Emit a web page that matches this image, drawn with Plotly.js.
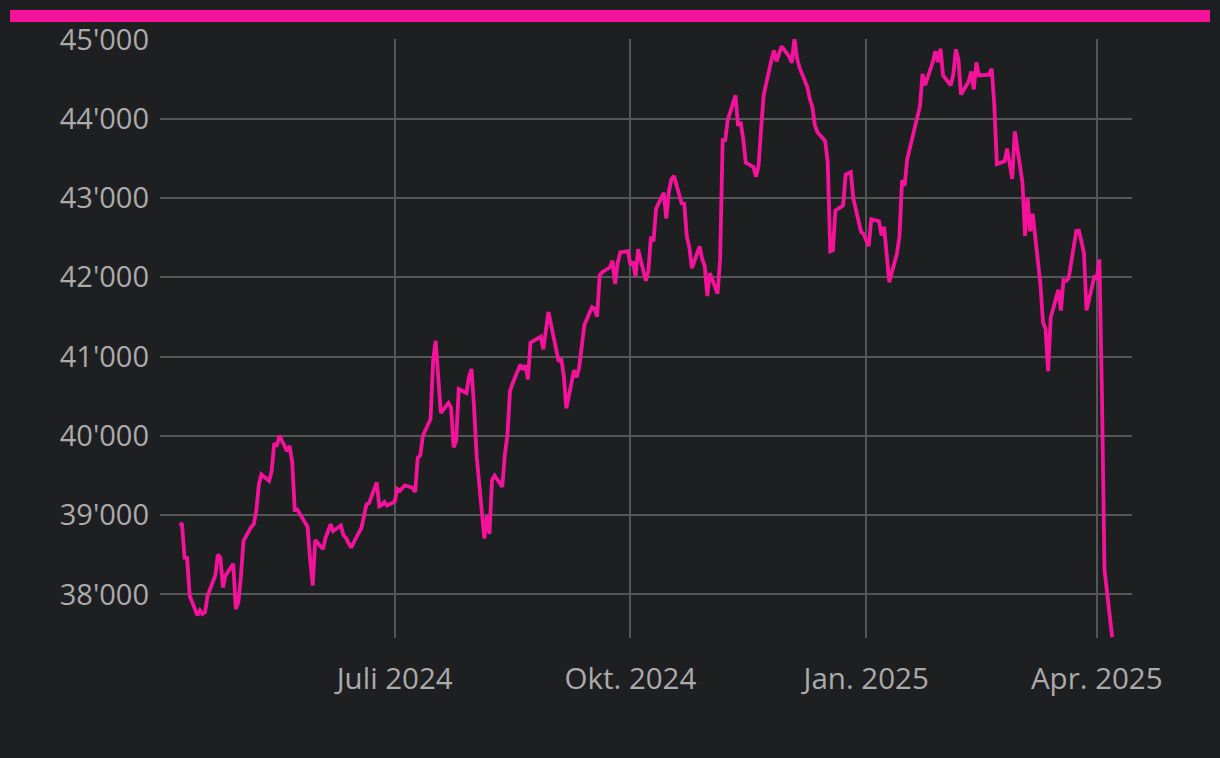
<!DOCTYPE html>
<html>
<head>
<meta charset="utf-8">
<script src="https://cdn.plot.ly/plotly-3.0.1.min.js"></script>
<style>
  html, body { margin: 0; padding: 0; background: #1e1f21; }
  #wrap { position: relative; width: 1220px; height: 758px; }
  #bar { position: absolute; left: 10px; top: 10px; width: 1200px; height: 12px; background: #f5129a; z-index: 5; }
  #chart { position: absolute; left: 0; top: 0; width: 1220px; height: 758px; }
</style>
</head>
<body>
<div id="wrap">
  <div id="chart"></div>
  <div id="bar"></div>
</div>
<script>
// Index level (daily closes)
const dates = [
 "2024-04-08","2024-04-09","2024-04-10","2024-04-11","2024-04-12","2024-04-15","2024-04-16","2024-04-17","2024-04-18","2024-04-19",
 "2024-04-22","2024-04-23","2024-04-24","2024-04-25","2024-04-26","2024-04-29","2024-04-30",
 "2024-05-01","2024-05-02","2024-05-03","2024-05-06","2024-05-07","2024-05-08","2024-05-09","2024-05-10","2024-05-13","2024-05-14",
 "2024-05-15","2024-05-16","2024-05-17","2024-05-20","2024-05-21","2024-05-22","2024-05-23","2024-05-24","2024-05-28","2024-05-29",
 "2024-05-30","2024-05-31",
 "2024-06-03","2024-06-04","2024-06-05","2024-06-06","2024-06-07","2024-06-10","2024-06-11","2024-06-12","2024-06-13","2024-06-14",
 "2024-06-17","2024-06-18","2024-06-20","2024-06-21","2024-06-24","2024-06-25","2024-06-26","2024-06-27","2024-06-28",
 "2024-07-01","2024-07-02","2024-07-03","2024-07-05","2024-07-08","2024-07-09","2024-07-10","2024-07-11","2024-07-12","2024-07-15",
 "2024-07-16","2024-07-17","2024-07-18","2024-07-19","2024-07-22","2024-07-23","2024-07-24","2024-07-25","2024-07-26","2024-07-29",
 "2024-07-30","2024-07-31",
 "2024-08-01","2024-08-02","2024-08-05","2024-08-06","2024-08-07","2024-08-08","2024-08-09","2024-08-12","2024-08-13","2024-08-14",
 "2024-08-15","2024-08-16","2024-08-19","2024-08-20","2024-08-21","2024-08-22","2024-08-23","2024-08-26","2024-08-27","2024-08-28",
 "2024-08-29","2024-08-30",
 "2024-09-03","2024-09-04","2024-09-05","2024-09-06","2024-09-09","2024-09-10","2024-09-11","2024-09-12","2024-09-13","2024-09-16",
 "2024-09-17","2024-09-18","2024-09-19","2024-09-20","2024-09-23","2024-09-24","2024-09-25","2024-09-26","2024-09-27","2024-09-30",
 "2024-10-01","2024-10-02","2024-10-03","2024-10-04","2024-10-07","2024-10-08","2024-10-09","2024-10-10","2024-10-11","2024-10-14",
 "2024-10-15","2024-10-16","2024-10-17","2024-10-18","2024-10-21","2024-10-22","2024-10-23","2024-10-24","2024-10-25","2024-10-28",
 "2024-10-29","2024-10-30","2024-10-31",
 "2024-11-01","2024-11-04","2024-11-05","2024-11-06","2024-11-07","2024-11-08","2024-11-11","2024-11-12","2024-11-13","2024-11-14",
 "2024-11-15","2024-11-18","2024-11-19","2024-11-20","2024-11-21","2024-11-22","2024-11-25","2024-11-26","2024-11-27","2024-11-29",
 "2024-12-02","2024-12-03","2024-12-04","2024-12-05","2024-12-06","2024-12-09","2024-12-10","2024-12-11","2024-12-12","2024-12-13",
 "2024-12-16","2024-12-17","2024-12-18","2024-12-19","2024-12-20","2024-12-23","2024-12-24","2024-12-26","2024-12-27","2024-12-30",
 "2024-12-31",
 "2025-01-02","2025-01-03","2025-01-06","2025-01-07","2025-01-08","2025-01-10","2025-01-13","2025-01-14","2025-01-15","2025-01-16",
 "2025-01-17","2025-01-21","2025-01-22","2025-01-23","2025-01-24","2025-01-27","2025-01-28","2025-01-29","2025-01-30","2025-01-31",
 "2025-02-03","2025-02-04","2025-02-05","2025-02-06","2025-02-07","2025-02-10","2025-02-11","2025-02-12","2025-02-13","2025-02-14",
 "2025-02-18","2025-02-19","2025-02-20","2025-02-21","2025-02-24","2025-02-25","2025-02-26","2025-02-27","2025-02-28",
 "2025-03-03","2025-03-04","2025-03-05","2025-03-06","2025-03-07","2025-03-10","2025-03-11","2025-03-12","2025-03-13","2025-03-14",
 "2025-03-17","2025-03-18","2025-03-19","2025-03-20","2025-03-21","2025-03-24","2025-03-25","2025-03-26","2025-03-27","2025-03-28",
 "2025-03-31",
 "2025-04-01","2025-04-02","2025-04-03","2025-04-04","2025-04-07"
];
const values = [
 38893,38884,38462,38459,37983,37735,37799,37753,37775,37986,
 38240,38504,38461,38086,38240,38386,37816,
 37903,38226,38676,38852,38884,39056,39388,39513,39432,39558,
 39908,39869,40004,39807,39873,39671,39065,39070,38853,38442,
 38111,38686,
 38571,38711,38807,38886,38799,38868,38747,38712,38647,38589,
 38778,38835,39135,39150,39411,39112,39128,39164,39119,
 39170,39332,39308,39376,39345,39292,39721,39754,40001,40212,
 40954,41198,40665,40288,40415,40358,39854,39935,40589,40540,
 40743,40843,
 40348,39737,38703,38998,38763,39446,39498,39357,39766,40008,
 40563,40660,40897,40835,40890,40713,41175,41241,41251,41091,
 41335,41563,
 40937,40975,40756,40345,40830,40737,40862,41097,41394,41622,
 41606,41503,42025,42063,42125,42208,41915,42175,42313,42330,
 42157,42197,42012,42353,41954,42080,42512,42454,42864,43065,
 42740,43078,43239,43276,42932,42925,42515,42374,42114,42388,
 42233,42142,41763,
 42052,41795,42222,43730,43729,43989,44293,43911,43958,43751,
 43445,43390,43269,43408,43870,44297,44737,44860,44722,44911,
 44782,44706,45014,44766,44643,44402,44248,44149,43914,43828,
 43717,43450,42327,42342,42840,42907,43297,43326,42992,42574,
 42544,
 42392,42732,42707,42528,42635,41938,42297,42518,43222,43153,
 43488,44026,44157,44565,44424,44714,44850,44714,44882,44545,
 44422,44556,44873,44748,44303,44470,44594,44369,44711,44546,
 44556,44628,44177,43428,43461,43621,43433,43240,43841,
 43191,42521,43007,42579,42802,41912,41433,41351,40814,41488,
 41842,41581,41965,41953,41985,42583,42588,42455,42300,41584,
 42002,
 41990,42225,40546,38315,37460
];

// Axis ticks
const yTickVals = [38000, 39000, 40000, 41000, 42000, 43000, 44000, 45000];
const xTickVals = ["2024-07-01", "2024-10-01", "2025-01-01", "2025-04-01"];
const xTickText = ["Juli 2024", "Okt. 2024", "Jan. 2025", "Apr. 2025"];

const fontFam = "'Open Sans', 'Noto Sans', sans-serif";
const txtColor = "#ababab";
const gridColor = "#555658";

const trace = {
  x: dates,
  y: values,
  type: "scatter",
  mode: "lines",
  line: { color: "#f5129a", width: 3.8 },
  hoverinfo: "skip"
};

const layout = {
  width: 1220,
  height: 758,
  paper_bgcolor: "#1e1f21",
  plot_bgcolor: "#1e1f21",
  separators: ".'",
  showlegend: false,
  margin: { l: 160, r: 88, t: 39, b: 120, pad: 0 },
  font: { family: fontFam, color: txtColor, size: 29 },
  xaxis: {
    type: "date",
    range: ["2024-03-31 10:00", "2025-04-14 17:45"],
    tickvals: xTickVals,
    ticktext: xTickText,
    showgrid: true,
    gridcolor: gridColor,
    gridwidth: 2,
    zeroline: false,
    showline: false,
    ticks: "",
    ticklabelstandoff: 20,
    tickfont: { family: fontFam, color: txtColor, size: 29.5 },
    fixedrange: true
  },
  yaxis: {
    range: [37450, 45005],
    tickvals: yTickVals,
    tickformat: ",.0f",
    showgrid: true,
    gridcolor: gridColor,
    gridwidth: 2,
    zeroline: false,
    showline: false,
    ticks: "",
    ticklabelstandoff: 10,
    tickfont: { family: fontFam, color: txtColor, size: 29 },
    fixedrange: true
  }
};

Plotly.newPlot("chart", [trace], layout, { displayModeBar: false, staticPlot: true });
</script>
</body>
</html>
